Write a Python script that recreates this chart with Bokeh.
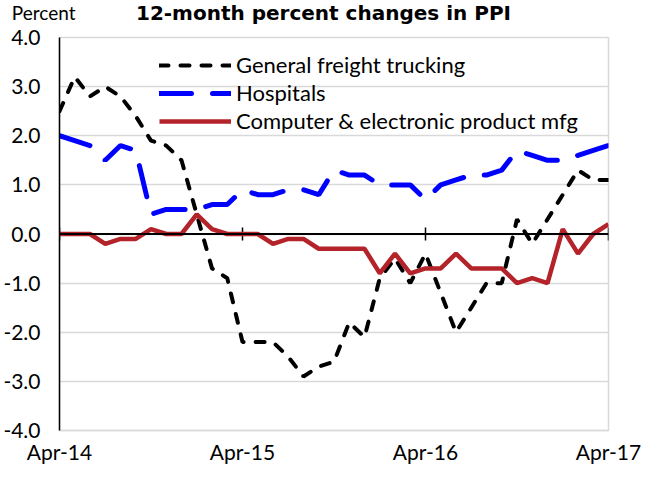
from bokeh.plotting import figure
from bokeh.layouts import column
from bokeh.models import Range1d, Legend, LegendItem, FixedTicker, Span, NumeralTickFormatter
from bokeh.embed import file_html
from bokeh.resources import INLINE
from bokeh.core.properties import value

# ---- data (monthly, Apr-14 .. Apr-17) ----
months = list(range(37))
tick_pos = [0, 12, 24, 36]
tick_labels = ["Apr-14", "Apr-15", "Apr-16", "Apr-17"]
y_ticks = [-4, -3, -2, -1, 0, 1, 2, 3, 4]

trucking = [2.5, 3.2, 2.8, 3.0, 2.8, 2.4, 1.9, 1.8, 1.5, 0.4, -0.7, -0.9,
            -2.2, -2.2, -2.2, -2.5, -2.9, -2.7, -2.6, -1.8, -2.1, -0.9, -0.5, -1.0,
            -0.4, -1.2, -2.0, -1.5, -1.0, -1.0, 0.3, -0.2, 0.3, 0.8, 1.3, 1.1, 1.1]
hospitals = [2.0, 1.9, 1.8, 1.5, 1.8, 1.7, 0.4, 0.5, 0.5, 0.5, 0.6, 0.6,
             0.9, 0.8, 0.8, 0.9, 0.9, 0.8, 1.3, 1.2, 1.2, 1.0, 1.0, 1.0,
             0.7, 1.0, 1.1, 1.2, 1.2, 1.3, 1.7, 1.6, 1.5, 1.5, 1.6, 1.7, 1.8]
computer = [0.0, 0.0, 0.0, -0.2, -0.1, -0.1, 0.1, 0.0, 0.0, 0.4, 0.1, 0.0,
            0.0, 0.0, -0.2, -0.1, -0.1, -0.3, -0.3, -0.3, -0.3, -0.8, -0.4, -0.8,
            -0.7, -0.7, -0.4, -0.7, -0.7, -0.7, -1.0, -0.9, -1.0, 0.1, -0.4, 0.0, 0.2]

series_names = ["General freight trucking", "Hospitals", "Computer & electronic product mfg"]
title_text = "12-month percent changes in PPI"
unit_text = "Percent"

FONT = "Lato"
GRID = "#d9d9d9"
W = 649
HEAD_H = 24
MAIN_H = 442
BL, BR = 59, 41

# ---- header strip: title (text glyph) and unit label (axis tick label) ----
head = figure(width=W, height=HEAD_H, output_backend="svg", toolbar_location=None,
              x_range=Range1d(BL + 8, W - BR + 8), y_range=Range1d(HEAD_H, 0),
              min_border_left=BL, min_border_right=BR, min_border_top=0, min_border_bottom=0,
              x_axis_type=None)
head.outline_line_color = None
head.grid.visible = False
head.yaxis.ticker = FixedTicker(ticks=[12])
head.yaxis.major_label_overrides = {12: unit_text}
head.yaxis.axis_line_color = None
head.yaxis.major_tick_line_color = None
head.yaxis.minor_tick_line_color = None
head.yaxis.major_tick_out = 0
head.yaxis.major_tick_in = 0
head.yaxis.minor_tick_out = 0
head.yaxis.major_label_standoff = -16
head.yaxis.major_label_text_font = FONT
head.yaxis.major_label_text_font_size = "19px"
head.yaxis.major_label_text_color = "black"
head.text(x=[331], y=[12], text=[title_text], text_align="center", text_baseline="middle",
          text_font=value("DejaVu Sans"), text_font_style="bold", text_font_size="20px",
          text_color="black")

# ---- main chart ----
p = figure(width=W, height=MAIN_H, output_backend="svg", toolbar_location=None,
           x_range=Range1d(0, 36), y_range=Range1d(-4, 4),
           min_border_left=BL, min_border_right=BR, min_border_top=13, min_border_bottom=33)
p.background_fill_color = "white"
p.border_fill_color = "white"
p.outline_line_color = GRID
p.outline_line_width = 1.5

p.xgrid.visible = False
p.ygrid.ticker = FixedTicker(ticks=y_ticks)
p.ygrid.grid_line_color = GRID
p.ygrid.grid_line_width = 1.5

# y axis
p.yaxis.ticker = FixedTicker(ticks=y_ticks)
p.yaxis.formatter = NumeralTickFormatter(format="0.0")
p.yaxis.axis_line_color = "black"
p.yaxis.axis_line_width = 1.5
p.yaxis.major_tick_line_color = None
p.yaxis.minor_tick_line_color = None
p.yaxis.major_tick_out = 0
p.yaxis.major_tick_in = 0
p.yaxis.minor_tick_out = 0
p.yaxis.major_label_standoff = 19
p.yaxis.major_label_text_font = FONT
p.yaxis.major_label_text_font_size = "21px"
p.yaxis.major_label_text_color = "black"

# x axis
p.xaxis.ticker = FixedTicker(ticks=tick_pos)
p.xaxis.major_label_overrides = {t: l for t, l in zip(tick_pos, tick_labels)}
p.xaxis.axis_line_color = GRID
p.xaxis.axis_line_width = 1.5
p.xaxis.major_tick_line_color = None
p.xaxis.minor_tick_line_color = None
p.xaxis.major_tick_out = 0
p.xaxis.major_tick_in = 0
p.xaxis.minor_tick_out = 0
p.xaxis.major_label_standoff = 8
p.xaxis.major_label_text_font = FONT
p.xaxis.major_label_text_font_size = "21px"
p.xaxis.major_label_text_color = "black"

# zero line with tick marks
p.add_layout(Span(location=0, dimension="width", line_color="black", line_width=2))
p.segment(x0=tick_pos, y0=[-0.13] * len(tick_pos), x1=tick_pos, y1=[0.13] * len(tick_pos),
          line_color="black", line_width=1.5)

r1 = p.line(months, trucking, line_color="black", line_width=4, line_dash="9 12", line_cap="round")
r2 = p.line(months, hospitals, line_color="#0000FF", line_width=5, line_dash="32 21", line_cap="round")
r3 = p.line(months, computer, line_color="#B4232A", line_width=4.5)

legend = Legend(items=[LegendItem(label=series_names[0], renderers=[r1]),
                       LegendItem(label=series_names[1], renderers=[r2]),
                       LegendItem(label=series_names[2], renderers=[r3])],
                location=(100, 296), glyph_width=72, glyph_height=26, label_height=26,
                spacing=1, padding=0, margin=0, label_standoff=5,
                label_text_font=FONT, label_text_font_size="22px", label_text_color="black",
                background_fill_alpha=0, border_line_alpha=0)
p.add_layout(legend)

layout = column(head, p, spacing=0)
open("out.html", "w").write(file_html(layout, INLINE))
